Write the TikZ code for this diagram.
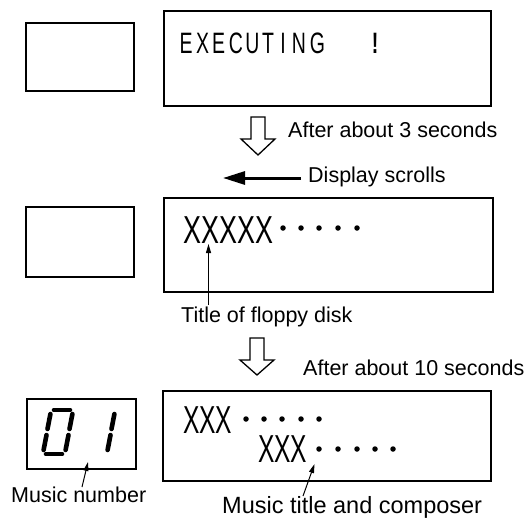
\documentclass[tikz,border=0pt]{standalone}
\usepackage{fontspec}
\setmainfont{Liberation Sans}
\usetikzlibrary{arrows.meta}
\newcommand\lcdch[1]{\scalebox{0.66}[1]{\fontsize{29.5}{29.5}\selectfont #1}}
\newcommand\bigx[2]{\scalebox{#1}[1]{\fontsize{39}{39}\selectfont #2}}
\begin{document}
\begin{tikzpicture}[x=1pt,y=-1pt,
  box/.style={draw, line width=1.6pt, inner sep=0pt, anchor=north west},
  lbl/.style={anchor=base west, inner sep=0pt, font=\fontsize{21.5}{21.5}\selectfont},
  lcd/.style={anchor=base, inner sep=0pt},
  ptr/.style={line width=1pt, -{Triangle[length=9pt,width=5pt]}},
  hollow/.style={draw, line width=1.3pt, fill=white, line join=miter},
  dotn/.style={circle, fill, inner sep=0pt, minimum size=5.5pt},
  seg/.style={line width=4.6pt, line cap=round},
]
\useasboundingbox (0,0) rectangle (526,519);

% boxes
\node[box, minimum width=108pt, minimum height=68pt] (b1l) at (25,22) {};
\node[box, minimum width=327pt, minimum height=95pt] (b1r) at (163,10) {};
\node[box, minimum width=108pt, minimum height=70pt] (b2l) at (25,206) {};
\node[box, minimum width=329pt, minimum height=94pt] (b2r) at (163,197) {};
\node[box, minimum width=109pt, minimum height=70pt] (b3l) at (26,398) {};
\node[box, minimum width=328pt, minimum height=90pt] (b3r) at (162,390) {};

% EXECUTING !
\foreach \c/\x [count=\i] in {E/186,X/202.5,E/218.5,C/236,U/252.5,T/268,I/283,N/299,G/317.5}
  \node[lcd] (ex\i) at (\x,53) {\lcdch{\c}};
\node[lcd] (exc) at (375,53) {\lcdch{\bfseries !}};

% hollow arrow 1
\draw[hollow] (251,117) -- (265,117) -- (265,139) -- (275,139) -- (258,155)
  -- (241,139) -- (251,139) -- cycle;
\node[lbl] (t3) at (288,137.5) {After about 3 seconds};

% scroll arrow
\node[lbl] (ds) at (308,182) {Display scrolls};
\coordinate (scS) at (301,178);
\coordinate (scE) at (223,178);
\draw[line width=3pt, -{Triangle[length=22pt,width=13pt]}] (scS) -- (scE);

% middle display
\node[anchor=base west, inner sep=0pt] (x5) at (183,243) {\bigx{0.69}{XXXXX}};
\foreach \x [count=\i] in {283,301,319,338,357}
  \node[dotn] (da\i) at (\x,228) {};
\node[lbl] (ttl) at (181,322) {Title of floppy disk};
\coordinate (ttlT) at (208.5,244);
\draw[ptr] (208.5,305) -- (ttlT);

% hollow arrow 2
\draw[hollow] (250,338) -- (264,338) -- (264,360) -- (274,360) -- (257,375)
  -- (240,360) -- (250,360) -- cycle;
\node[lbl] (t10) at (303,375) {After about 10 seconds};

% bottom display
\node[anchor=base west, inner sep=0pt] (x3a) at (183,433) {\bigx{0.63}{XXX}};
\foreach \x [count=\i] in {246,264,282,301,319}
  \node[dotn] (db\i) at (\x,419) {};
\node[anchor=base west, inner sep=0pt] (x3b) at (258,462) {\bigx{0.63}{XXX}};
\foreach \x [count=\i] in {319,338,357,375,393}
  \node[dotn] (dc\i) at (\x,449) {};
\node[lbl, font=\fontsize{23.5}{23.5}\selectfont] (mt) at (222,513) {Music title and composer};
\coordinate (mtS) at (303,496);
\coordinate (mtT) at (314.5,464);
\draw[ptr] (mtS) -- (mtT);

% seven segment 01
\draw[seg] (54,410) -- (70,410);
\draw[seg] (46,454) -- (62,454);
\draw[seg] (50.4,414) -- (47.5,429);
\draw[seg] (46.5,435) -- (43.6,450);
\draw[seg] (72.4,414) -- (69.5,429);
\draw[seg] (68.5,435) -- (65.6,450);
\draw[seg] (114.4,414) -- (111.5,429);
\draw[seg] (110.5,435) -- (107.6,450);
\node[lbl] (mn) at (11,502) {Music number};
\coordinate (mnS) at (82,487);
\coordinate (mnT) at (88,462);
\draw[ptr] (mnS) -- (mnT);
\end{tikzpicture}
\end{document}
